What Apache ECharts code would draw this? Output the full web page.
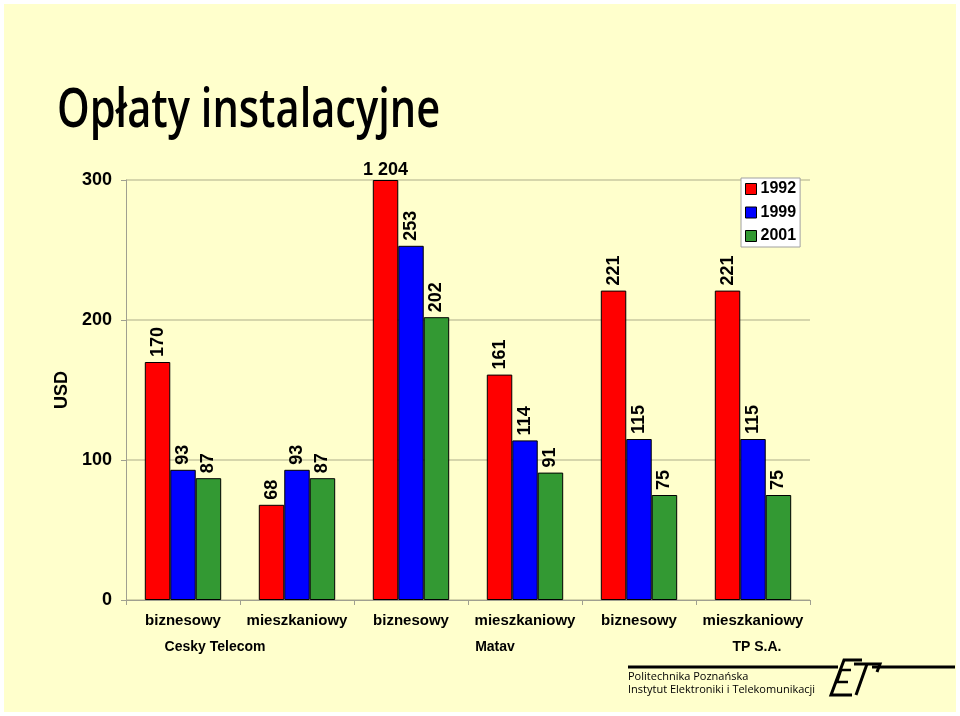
<!DOCTYPE html>
<html>
<head>
<meta charset="utf-8">
<script src="https://cdn.jsdelivr.net/npm/echarts@6/dist/echarts.min.js"></script>
<style>
html,body{margin:0;padding:0;background:#fff;}
#c{width:960px;height:716px;}
</style>
</head>
<body>
<div id="c"></div>
<script>
const categories = ['biznesowy','mieszkaniowy','biznesowy','mieszkaniowy','biznesowy','mieszkaniowy'];
const operators = ['Cesky Telecom','Matav','TP S.A.'];
const seriesNames = ['1992','1999','2001'];
const v1992 = [170, 68, 1204, 161, 221, 221];
const v1999 = [93, 93, 253, 114, 115, 115];
const v2001 = [87, 87, 202, 91, 75, 75];
const yTicks = [0, 100, 200, 300];
const colors = ['#FF0000','#0000FF','#339933'];

const AXIS_MAX = 300;
const FONT = '"Liberation Sans", Arial, sans-serif';

function build(vals){
  return vals.map(v => {
    if (v > AXIS_MAX) {
      return {value: AXIS_MAX, realValue: v, label:{rotate:0, align:'center', verticalAlign:'bottom', distance:1,
        formatter: () => String(v).replace(/\B(?=(\d{3})+(?!\d))/g,' ')}};
    }
    return {value: v};
  });
}

const chart = echarts.init(document.getElementById('c'));
const seriesData = [v1992, v1999, v2001];
chart.setOption({
  backgroundColor:'#ffffff',
  animation:false,
  textStyle:{fontFamily:FONT},
  grid:{left:126, right:150, top:180, bottom:116},
  legend:{
    orient:'vertical', left:741, top:178,
    data: seriesNames,
    backgroundColor:'#ffffff', borderColor:'#a0a0a0', borderWidth:1,
    padding:[3,4,3,4], itemGap:7.5, itemWidth:11, itemHeight:11,
    icon:'rect',
    itemStyle:{borderColor:'#000', borderWidth:1},
    textStyle:{fontFamily:FONT, fontWeight:'bold', fontSize:16, lineHeight:16, color:'#000', padding:[0,0,0,-1]}
  },
  xAxis:{
    type:'category', data:categories,
    axisLine:{lineStyle:{color:'#a0a090', width:1}},
    axisTick:{show:true, length:5, lineStyle:{color:'#a0a090'}},
    axisLabel:{color:'#000', fontWeight:'bold', fontSize:15, fontFamily:FONT, margin:13, interval:0}
  },
  yAxis:{
    type:'value', min:0, max:AXIS_MAX, interval:100,
    name:'USD', nameLocation:'middle', nameGap:52, nameRotate:90,
    nameTextStyle:{color:'#000', fontWeight:'bold', fontSize:18, fontFamily:FONT},
    axisLine:{show:true, lineStyle:{color:'#a0a090'}},
    axisTick:{show:true, length:5, lineStyle:{color:'#a0a090'}},
    axisLabel:{color:'#000', fontWeight:'bold', fontSize:18, fontFamily:FONT, margin:14,
      formatter: v => yTicks.includes(v) ? String(v) : ''},
    splitLine:{show:true, lineStyle:{color:'#c8c8a0', width:1.5}}
  },
  series: seriesNames.map((n,i)=>({
    name:n, type:'bar', data:build(seriesData[i]),
    barGap:'0%', barCategoryGap:'33%',
    itemStyle:{color:colors[i], borderColor:'#000', borderWidth:1},
    label:{show:true, position:'top', rotate:90, align:'left', verticalAlign:'middle', distance:5,
      color:'#000', fontWeight:'bold', fontSize:18, fontFamily:FONT}
  })),
  graphic:[
    {type:'rect', z:-100, silent:true, shape:{x:4, y:4, width:952, height:708}, style:{fill:'#FFFFCC'}},
    {type:'text', x:57, y:85, scaleX:0.77, originX:0, originY:0,
      style:{text:'Opłaty instalacyjne', fontFamily:'"Open Sans", sans-serif', fontWeight:600, fontSize:54, fill:'#000'}},
    {type:'text', x:215, y:647, style:{text:operators[0], fontFamily:FONT, fontWeight:'bold', fontSize:14, fill:'#000', align:'center', verticalAlign:'middle'}},
    {type:'text', x:495, y:647, style:{text:operators[1], fontFamily:FONT, fontWeight:'bold', fontSize:14, fill:'#000', align:'center', verticalAlign:'middle'}},
    {type:'text', x:757, y:647, style:{text:operators[2], fontFamily:FONT, fontWeight:'bold', fontSize:14, fill:'#000', align:'center', verticalAlign:'middle'}},
    {type:'line', shape:{x1:628, y1:667, x2:838, y2:667}, style:{stroke:'#000', lineWidth:3}},
    {type:'line', shape:{x1:872, y1:667, x2:955, y2:667}, style:{stroke:'#000', lineWidth:3}},
    {type:'polyline', shape:{points:[[862,660],[844,660],[831,695],[852,695]]}, style:{stroke:'#000', lineWidth:3, fill:null}},
    {type:'polyline', shape:{points:[[851,670],[841,670],[837,682],[848,682]]}, style:{stroke:'#000', lineWidth:2.5, fill:null}},
    {type:'polyline', shape:{points:[[854,664],[880,664],[877,672]]}, style:{stroke:'#000', lineWidth:3, fill:null}},
    {type:'line', shape:{x1:867, y1:664, x2:856, y2:695}, style:{stroke:'#000', lineWidth:3}},
    {type:'text', x:628, y:677, style:{text:'Politechnika Poznańska', fontFamily:'"Open Sans", sans-serif', fontSize:11, fill:'#000', verticalAlign:'middle'}},
    {type:'text', x:628, y:690, style:{text:'Instytut Elektroniki i Telekomunikacji', fontFamily:'"Open Sans", sans-serif', fontSize:11, fill:'#000', verticalAlign:'middle'}}
  ]
});
</script>
</body>
</html>
